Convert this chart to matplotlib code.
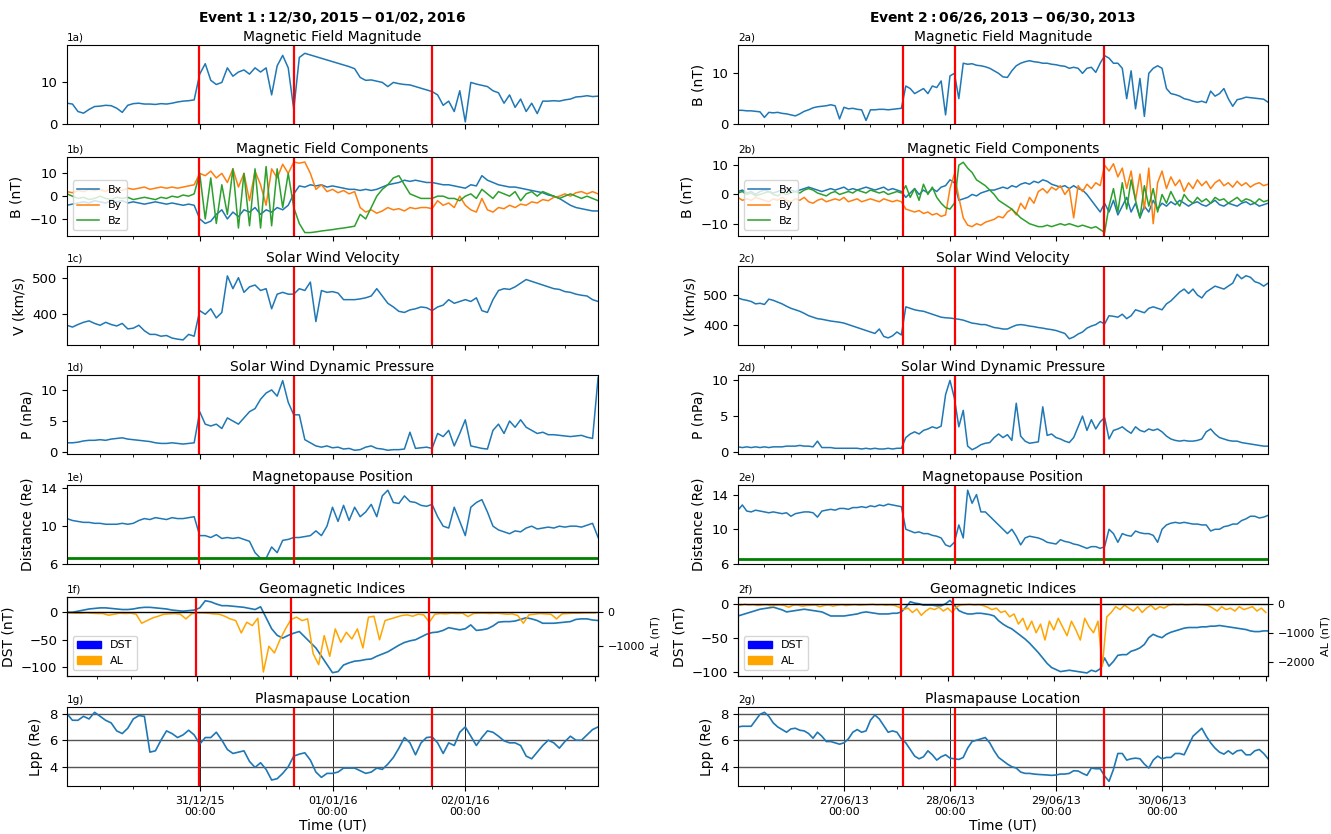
import numpy as np
import pandas as pd
import matplotlib
matplotlib.use('Agg')
import matplotlib.pyplot as plt
import matplotlib.dates as mdates
from matplotlib.patches import Patch

# ---------------- Event 1 : 30/12/2015 - 03/01/2016 (hourly) ----------------
time1 = pd.date_range('2015-12-30 00:00', '2016-01-03 00:00', freq='h')
time1_dst = time1 + pd.Timedelta(minutes=30)
ev1_marks = pd.to_datetime(['2015-12-30 23:50', '2015-12-31 17:00', '2016-01-01 18:00'])
ev1_title = r'$\bf{Event\ 1: 12/30, 2015 - 01/02, 2016}$'

ev1_b = [5.0, 4.8, 3.0, 2.6, 3.5, 4.2, 4.3, 4.5, 4.4, 3.8,
         2.8, 4.5, 4.9, 5.0, 4.8, 4.8, 4.7, 4.9, 4.8, 5.0,
         5.3, 5.5, 5.6, 5.8, 12.0, 14.5, 10.5, 9.5, 10.0, 13.5,
         11.5, 12.5, 13.0, 12.0, 13.5, 12.5, 13.5, 7.0, 14.0, 16.5,
         13.5, 3.5, 16.0, 17.0, 16.6, 16.2, 15.8, 15.4, 15.0, 14.6,
         14.2, 13.8, 13.3, 11.2, 10.5, 10.6, 10.3, 10.0, 9.0, 10.0,
         9.7, 9.5, 9.4, 9.0, 8.6, 8.2, 7.8, 7.0, 4.5, 5.5,
         3.0, 8.0, 0.5, 10.0, 9.6, 9.3, 9.0, 8.0, 7.5, 5.0,
         7.0, 4.0, 6.0, 3.0, 5.0, 2.5, 5.5, 5.5, 5.6, 5.5,
         5.8, 6.0, 6.5, 6.6, 6.8, 6.6, 6.7]
ev1_bx = [-4.0, -3.5, -3.0, -2.5, -3.0, -2.0, -2.5, -3.0, -2.0, -2.5,
          -2.0, -3.0, -2.5, -3.0, -3.5, -3.0, -2.5, -3.0, -3.5, -3.0,
          -3.5, -4.0, -3.5, -4.0, -10.0, -12.0, -11.0, -8.0, -6.0, -10.0,
          -7.0, -9.0, -6.0, -7.0, -5.0, -8.0, -6.0, -7.0, -5.0, -6.0,
          -4.0, 1.0, 4.5, 4.0, 5.0, 4.5, 5.0, 4.0, 4.5, 4.0,
          3.5, 3.0, 3.0, 2.5, 3.0, 2.5, 3.0, 4.0, 5.0, 5.5,
          6.0, 7.0, 6.5, 7.0, 6.5, 6.0, 6.0, 5.5, 5.0, 5.0,
          4.5, 4.0, 3.5, 5.0, 4.5, 9.0, 7.0, 6.0, 5.0, 4.5,
          4.0, 4.0, 3.5, 3.0, 2.5, 2.0, 1.5, 0.5, 0.0, -1.0,
          -2.5, -4.0, -5.0, -5.5, -6.0, -6.5, -6.5]
ev1_by = [2.0, 1.5, 2.5, 2.0, 3.0, 2.5, 3.0, 2.0, 3.5, 3.0,
          2.5, 3.5, 3.0, 3.5, 4.0, 3.0, 3.5, 4.0, 3.5, 4.0,
          3.5, 4.0, 4.5, 5.0, 10.0, 9.0, 11.0, 8.0, 10.0, 6.0,
          12.0, 4.0, 10.0, -2.0, 11.0, 5.0, -4.0, 12.0, 8.0, 14.0,
          10.0, 15.0, 14.5, 15.0, 10.0, 3.0, 5.0, 2.0, 3.0, 1.5,
          2.5, 1.0, 2.0, -5.0, -7.0, -6.0, -7.5, -6.5, -5.0, -6.0,
          -5.5, -6.5, -5.0, -5.5, -5.0, -5.0, -5.5, -2.0, -4.0, -3.0,
          -5.0, 0.0, -4.0, -6.0, -7.0, -1.0, -6.0, -7.0, -5.0, -5.5,
          -4.0, -5.0, -3.5, -4.0, -2.5, -3.0, -1.5, -2.0, -0.5, 0.0,
          1.0, 0.0, 1.5, 2.0, 1.0, 2.0, 1.0]
ev1_bz = [1.0, 0.0, -1.0, -0.5, -1.5, -1.0, 0.0, -1.0, -1.5, -0.5,
          -1.0, -0.5, -1.5, -1.0, -0.5, -1.0, -1.5, -0.5, -1.0, 0.0,
          -0.5, 0.5, 0.0, 1.0, 10.0, -10.0, 8.0, -12.0, 5.0, -8.0,
          12.0, -14.0, 10.0, -13.0, 12.0, -14.0, 13.0, -13.0, 12.0, -5.0,
          10.0, -5.0, -12.0, -16.0, -16.0, -15.7, -15.3, -15.0, -14.7, -14.3,
          -14.0, -13.6, -13.2, -8.0, -10.0, -5.0, 0.0, 3.0, 5.0, 8.0,
          9.0, 5.0, 1.0, 0.0, -1.0, -1.0, -1.0, 0.0, 0.0, -1.0,
          -1.0, -2.0, 0.0, 1.0, -1.0, 3.0, 1.0, -1.0, 2.0, 1.0,
          0.0, 2.0, -2.0, 1.0, 2.0, 0.0, 2.0, 1.0, 0.0, -1.0,
          0.0, 1.0, 0.0, -1.0, 0.0, -1.0, -2.0]
ev1_v = [370, 365, 372, 378, 382, 375, 370, 378, 372, 368,
         375, 360, 362, 370, 355, 345, 345, 340, 342, 335,
         332, 330, 345, 340, 410, 400, 415, 390, 405, 505,
         470, 500, 460, 475, 480, 465, 470, 415, 455, 460,
         455, 455, 470, 465, 488, 380, 465, 460, 462, 458,
         440, 440, 440, 442, 445, 450, 470, 450, 430, 420,
         408, 405, 412, 415, 420, 418, 410, 420, 425, 440,
         430, 435, 440, 435, 445, 410, 405, 440, 465, 470,
         468, 475, 485, 495, 490, 485, 480, 475, 470, 468,
         462, 460, 455, 452, 450, 440, 435]
ev1_p = [1.5, 1.5, 1.6, 1.8, 1.9, 1.9, 2.0, 1.9, 2.1, 2.2,
         2.3, 2.1, 2.0, 1.9, 1.8, 1.7, 1.5, 1.4, 1.4, 1.5,
         1.4, 1.3, 1.4, 1.5, 6.5, 4.5, 4.2, 4.5, 3.8, 5.5,
         5.0, 4.5, 5.5, 6.5, 7.0, 8.5, 9.5, 10.0, 9.0, 11.5,
         8.0, 6.0, 6.0, 2.0, 1.5, 1.0, 0.8, 1.0, 0.7, 0.8,
         0.5, 0.6, 0.3, 0.4, 0.8, 1.0, 0.6, 0.5, 0.3, 0.4,
         0.4, 0.5, 3.2, 0.6, 0.7, 0.8, 0.6, 3.0, 2.5, 3.5,
         1.0, 3.0, 5.2, 1.0, 0.8, 0.6, 0.5, 3.5, 4.5, 3.0,
         5.0, 4.0, 5.2, 4.0, 3.5, 3.0, 3.2, 2.8, 2.8, 2.7,
         2.6, 2.5, 2.6, 2.7, 2.4, 2.2, 12.0]
ev1_r = [10.8, 10.6, 10.5, 10.4, 10.4, 10.3, 10.3, 10.2, 10.2, 10.2,
         10.3, 10.2, 10.3, 10.6, 10.8, 10.7, 10.9, 10.8, 10.7, 10.9,
         10.8, 10.8, 10.9, 11.0, 9.0, 9.0, 8.8, 9.1, 8.7, 8.8,
         8.7, 8.8, 8.6, 8.4, 7.2, 6.6, 6.6, 7.8, 7.2, 8.5,
         8.6, 8.8, 8.8, 8.9, 9.0, 9.5, 9.0, 10.0, 12.0, 10.5,
         12.2, 10.6, 12.0, 11.0, 11.5, 12.3, 11.0, 13.2, 13.8, 12.5,
         12.4, 13.2, 12.6, 12.5, 12.2, 12.1, 12.3, 11.0, 10.0, 9.8,
         12.0, 10.5, 9.0, 12.0, 12.5, 12.8, 11.5, 10.0, 9.6, 9.4,
         9.2, 9.5, 9.4, 9.8, 10.0, 9.7, 9.8, 9.9, 9.8, 10.0,
         9.9, 10.0, 10.0, 9.9, 10.1, 10.3, 8.8]
ev1_dst = [0, 0, 2, 4, 6, 7, 8, 8, 7, 6,
           5, 5, 6, 8, 9, 9, 8, 7, 6, 4,
           3, 2, 3, 4, 8, 21, 19, 15, 12, 12,
           11, 10, 9, 7, 5, 10, -10, -30, -42, -47,
           -42, -38, -35, -45, -55, -65, -80, -95, -110, -108,
           -96, -92, -89, -88, -86, -85, -80, -76, -72, -66,
           -60, -55, -52, -50, -45, -40, -37, -36, -33, -28,
           -30, -32, -30, -23, -33, -32, -30, -25, -18, -17,
           -17, -16, -13, -10, -12, -15, -20, -20, -20, -19,
           -18, -17, -13, -12, -12, -14, -15]
ev1_al = [-20, -20, -30, -30, -20, -30, -40, -40, -90, -60,
          -30, -40, -30, -60, -330, -250, -170, -120, -60, -50,
          -40, -60, -200, -50, -20, -20, -30, -50, -60, -120,
          -200, -250, -620, -300, -400, -180, -1790, -1020, -1220, -825,
          -500, -215, -150, -250, -200, -1240, -1570, -700, -1320, -500,
          -900, -600, -800, -500, -1070, -150, -120, -825, -250, -200,
          -150, -100, -80, -120, -60, -80, -300, -60, -40, -50,
          -30, -40, -30, -130, -40, -30, -30, -40, -30, -40,
          -60, -50, -100, -330, -80, -60, -40, -50, -60, -200,
          -50, -40, -30, -30, -20, -20, -20]
ev1_lpp = [8.0, 7.5, 7.5, 7.8, 7.6, 8.1, 7.8, 7.5, 7.3, 6.7,
           6.5, 6.9, 7.6, 7.85, 7.8, 5.1, 5.2, 6.0, 6.7, 6.5,
           6.2, 6.4, 6.75, 6.4, 5.7, 6.2, 6.2, 6.6, 6.0, 5.3,
           5.0, 5.1, 5.2, 4.4, 3.95, 4.3, 3.8, 3.0, 3.1, 3.5,
           4.0, 4.8, 4.95, 5.05, 4.5, 3.6, 3.2, 3.5, 3.5, 3.6,
           3.9, 3.9, 3.9, 3.7, 3.5, 3.6, 3.9, 3.8, 4.2, 4.7,
           5.4, 6.2, 5.8, 4.9, 5.8, 6.2, 6.25, 5.8, 5.0, 5.8,
           5.6, 6.6, 7.0, 6.3, 5.6, 6.2, 6.7, 6.6, 6.3, 5.95,
           5.8, 5.8, 5.6, 4.8, 4.6, 5.1, 5.6, 6.0, 5.8, 5.4,
           5.9, 6.3, 6.0, 6.0, 6.4, 6.8, 7.0]

# ---------------- Event 2 : 26/06/2013 - 01/07/2013 (hourly) ----------------
time2 = pd.date_range('2013-06-26 00:00', '2013-07-01 00:00', freq='h')
time2_dst = time2 + pd.Timedelta(minutes=30)
ev2_marks = pd.to_datetime(['2013-06-27 13:24', '2013-06-28 01:06', '2013-06-29 10:48'])
ev2_title = r'$\bf{Event\ 2: 06/26, 2013 - 06/30, 2013}$'

ev2_b = [2.7, 2.7, 2.6, 2.6, 2.5, 2.4, 1.3, 2.3, 2.2, 2.3,
         2.1, 2.0, 1.8, 1.6, 2.0, 2.5, 2.8, 3.2, 3.4, 3.5,
         3.6, 3.8, 3.6, 1.0, 3.3, 3.0, 3.1, 2.9, 2.8, 0.7,
         2.8, 2.8, 2.9, 2.9, 2.8, 2.9, 3.0, 3.1, 7.5, 7.0,
         6.0, 6.5, 7.0, 6.0, 7.5, 7.2, 8.5, 1.8, 9.5, 10.0,
         5.0, 12.0, 11.8, 11.9, 11.6, 11.5, 11.3, 11.0, 10.5, 10.0,
         9.3, 9.2, 10.5, 11.5, 12.0, 12.3, 12.5, 12.3, 12.2, 12.0,
         12.0, 11.8, 11.7, 11.5, 11.4, 11.0, 11.2, 11.0, 10.0, 11.0,
         11.2, 10.2, 12.0, 13.5, 13.0, 12.0, 12.0, 11.0, 5.0, 10.5,
         3.0, 9.0, 1.5, 10.0, 11.0, 11.5, 11.0, 7.0, 6.0, 5.8,
         5.5, 5.0, 4.8, 4.5, 4.3, 4.5, 4.2, 6.5, 5.5, 6.0,
         7.0, 5.0, 3.5, 4.8, 5.0, 5.3, 5.2, 5.1, 5.0, 4.9,
         4.3]
ev2_bx = [1.0, 1.5, 0.5, 1.0, 0.0, 1.0, 1.5, 1.0, 0.5, 1.0,
          1.5, 2.0, 1.5, 1.0, 1.5, 2.0, 2.5, 2.0, 1.5, 1.0,
          1.5, 2.0, 1.5, 2.0, 2.5, 1.5, 2.0, 1.5, 2.0, 2.5,
          2.0, 1.5, 2.0, 2.5, 1.5, 2.0, 1.5, 1.0, -1.0, 0.5,
          2.0, 0.0, 1.5, 0.5, 2.0, 1.0, 2.5, 3.0, 5.0, 4.0,
          -2.0, -1.5, -1.0, 0.0, -0.5, 0.5, 1.0, 1.5, 1.5, 2.0,
          2.5, 2.0, 3.0, 2.5, 3.5, 4.0, 3.5, 4.5, 4.0, 5.0,
          4.5, 3.5, 3.0, 2.5, 3.0, 2.0, 3.0, 2.0, 1.5, 0.0,
          -2.0, -4.0, -6.0, -3.0, -6.0, -2.0, -7.0, -4.0, -1.0, -6.0,
          -3.0, -8.0, -4.0, -6.0, -2.0, -5.0, -3.0, -4.0, -2.5, -3.5,
          -2.0, -3.0, -4.0, -3.0, -2.5, -3.5, -4.0, -3.0, -2.0, -3.5,
          -4.0, -3.0, -3.5, -4.0, -3.0, -2.5, -3.5, -3.0, -4.0, -3.5,
          -3.0]
ev2_by = [-1.0, -2.0, -1.5, -2.0, -1.0, -1.5, -2.0, -2.5, -1.5, -2.0,
          -1.0, -2.0, -2.5, -1.5, -2.0, -1.0, -2.5, -3.0, -2.0, -1.5,
          -2.5, -2.0, -1.5, -2.0, -1.0, -2.5, -2.0, -1.5, -2.5, -2.0,
          -1.5, -2.0, -2.5, -1.5, -2.0, -2.5, -2.0, -2.5, -5.0, -5.5,
          -6.0, -5.5, -6.5, -6.0, -7.0, -6.5, -7.5, -7.0, 2.0, 7.0,
          -1.0, -8.0, -10.5, -11.0, -10.0, -10.5, -9.5, -9.0, -8.5, -7.5,
          -8.0, -6.0, -5.0, -7.0, -3.0, -5.0, -1.0, -3.0, 1.0, 2.0,
          0.5, 2.5, 1.5, 3.0, 0.0, 2.0, -8.0, 3.0, 1.0, 3.5,
          2.0, 4.0, 3.0, 10.0, 8.0, 10.5, 6.0, 9.0, 2.0, 8.0,
          -2.0, 7.0, -5.0, 9.0, -10.0, 4.0, 8.0, 2.0, 6.0, 3.0,
          5.0, 1.0, 4.0, 2.0, 5.0, 3.0, 4.5, 2.0, 4.0, 5.0,
          3.0, 4.0, 2.5, 4.5, 3.0, 4.0, 2.5, 3.5, 4.0, 3.0,
          3.5]
ev2_bz = [0.5, 1.0, 0.0, 0.5, -0.5, 0.0, 0.5, 1.0, 0.0, -0.5,
          0.5, 0.0, 0.5, 1.0, 0.5, 1.5, 2.0, 1.5, 0.5, 0.0,
          -0.5, 0.5, 1.0, 0.0, 0.5, 1.0, 0.5, 1.5, 1.0, 0.5,
          1.5, 1.0, 0.5, 1.0, 0.0, 0.5, 1.0, 0.5, 3.0, -1.0,
          2.0, -2.0, 3.5, 0.0, 2.5, -1.0, -3.0, -4.5, -5.0, -3.0,
          10.0, 11.0, 9.0, 7.5, 5.0, 4.0, 3.0, 1.5, 0.0, -2.0,
          -3.0, -4.0, -5.0, -6.5, -8.0, -9.0, -10.0, -10.5, -11.0, -11.0,
          -10.5, -11.0, -10.5, -10.0, -10.5, -10.0, -10.5, -11.0, -10.5, -11.0,
          -11.5, -11.0, -12.0, -13.0, -4.0, 2.0, -6.0, 4.0, -5.0, 5.0,
          -2.0, -8.0, 3.0, -4.0, 2.0, -6.0, 0.0, -3.0, 1.0, -2.0,
          -4.0, 0.0, -2.0, -3.0, -1.0, -2.5, -1.5, -3.0, -1.0, -2.0,
          -1.5, -3.0, -2.0, -1.0, -2.5, -1.5, -2.0, -3.0, -1.5, -2.5,
          -2.0]
ev2_v = [490, 485, 482, 478, 470, 472, 468, 486, 482, 476,
         470, 462, 455, 450, 445, 438, 430, 425, 420, 418,
         415, 412, 410, 408, 405, 400, 395, 390, 385, 380,
         375, 370, 385, 360, 355, 362, 375, 365, 460, 455,
         450, 447, 445, 440, 435, 430, 425, 423, 422, 420,
         418, 415, 410, 405, 403, 400, 400, 395, 390, 388,
         385, 385, 392, 398, 400, 398, 395, 393, 390, 388,
         385, 383, 380, 375, 370, 352, 358, 368, 375, 388,
         395, 400, 410, 402, 430, 428, 425, 435, 420, 430,
         450, 445, 440, 455, 460, 455, 450, 470, 480, 495,
         510, 520, 505, 520, 500, 490, 510, 520, 530, 525,
         520, 530, 540, 570, 555, 565, 560, 545, 540, 530,
         540]
ev2_p = [0.7, 0.6, 0.7, 0.6, 0.7, 0.6, 0.7, 0.6, 0.7, 0.7,
         0.7, 0.8, 0.8, 0.8, 0.9, 0.8, 0.8, 0.7, 1.5, 0.6,
         0.6, 0.6, 0.5, 0.5, 0.5, 0.5, 0.5, 0.5, 0.4, 0.5,
         0.4, 0.5, 0.4, 0.4, 0.5, 0.4, 0.5, 0.5, 2.0, 2.5,
         2.8, 2.5, 3.0, 3.2, 3.5, 3.3, 3.6, 8.0, 10.0, 7.5,
         3.5, 5.8, 0.8, 0.3, 0.6, 1.0, 1.2, 1.3, 2.0, 2.5,
         2.0, 2.4, 1.6, 6.8, 2.2, 1.5, 1.2, 1.3, 1.4, 6.3,
         2.3, 2.5, 2.0, 1.8, 1.5, 1.3, 2.0, 3.5, 5.0, 3.0,
         4.5, 3.2, 4.2, 4.8, 1.8, 3.0, 3.2, 3.5, 3.0, 2.6,
         3.5, 3.0, 2.8, 3.2, 3.0, 3.2, 2.8, 2.2, 1.8, 1.6,
         1.5, 1.6, 1.5, 1.5, 1.6, 1.8, 2.8, 3.2, 2.5, 2.0,
         1.8, 1.6, 1.5, 1.5, 1.3, 1.2, 1.1, 1.0, 0.9, 0.8,
         0.8]
ev2_r = [12.2, 12.8, 12.1, 12.0, 12.2, 12.1, 12.0, 11.9, 12.0, 11.9,
         11.8, 11.9, 11.5, 11.8, 11.9, 12.0, 12.0, 11.9, 11.4, 12.1,
         12.2, 12.3, 12.2, 12.4, 12.4, 12.3, 12.5, 12.5, 12.6, 12.5,
         12.7, 12.6, 12.8, 12.7, 12.9, 12.8, 12.7, 12.6, 10.0, 9.8,
         9.6, 9.7, 9.5, 9.5, 9.3, 9.2, 9.0, 8.2, 8.0, 8.5,
         10.5, 9.0, 14.5, 13.0, 14.0, 12.0, 12.0, 11.5, 11.0, 10.5,
         10.0, 9.5, 10.0, 9.2, 8.2, 9.0, 9.2, 9.1, 9.0, 8.8,
         8.5, 8.4, 8.3, 8.8, 8.6, 8.5, 8.3, 8.2, 8.0, 7.8,
         8.0, 8.0, 7.8, 8.0, 10.0, 9.5, 8.5, 9.5, 9.3, 9.2,
         9.8, 9.6, 9.5, 9.5, 9.3, 8.5, 10.0, 10.5, 10.7, 10.8,
         10.7, 10.8, 10.7, 10.6, 10.6, 10.5, 10.5, 9.8, 10.0, 10.0,
         10.3, 10.4, 10.6, 10.6, 11.0, 11.2, 11.5, 11.5, 11.3, 11.4,
         11.6]
ev2_dst = [-18, -16, -14, -12, -10, -8, -7, -6, -5, -7,
           -9, -12, -11, -10, -9, -8, -9, -10, -11, -12,
           -15, -18, -18, -18, -18, -17, -16, -15, -13, -12,
           -13, -14, -15, -15, -15, -14, -14, -12, -5, 3,
           1, 0, -2, -2, -2, -3, -3, 0, 5, -2,
           -10, -13, -15, -15, -14, -14, -15, -16, -18, -25,
           -30, -34, -37, -42, -47, -52, -58, -65, -72, -80,
           -88, -94, -97, -100, -99, -98, -99, -100, -101, -102,
           -98, -100, -96, -80, -92, -85, -76, -75, -75, -70,
           -68, -65, -60, -50, -45, -48, -50, -45, -42, -40,
           -38, -36, -35, -35, -35, -34, -34, -33, -33, -32,
           -33, -34, -35, -36, -37, -38, -40, -41, -41, -40,
           -40]
ev2_al = [-30, -50, -20, -40, -30, -60, -40, -30, -80, -50,
          -40, -60, -120, -50, -40, -80, -60, -50, -40, -100,
          -60, -40, -80, -50, -30, -60, -40, -30, -50, -40,
          -30, -20, -40, -30, -50, -40, -60, -120, -200, -150,
          -300, -180, -400, -250, -150, -200, -120, -250, -150, -300,
          -100, -40, -30, -20, -40, -30, -60, -120, -200, -150,
          -300, -250, -450, -350, -700, -500, -900, -600, -1000, -700,
          -1250, -600, -900, -500, -800, -1100, -600, -900, -1250, -500,
          -800, -1000, -600, -2150, -450, -300, -100, -200, -50, -150,
          -250, -100, -300, -150, -50, -200, -100, -150, -50, -20,
          -30, -20, -40, -30, -20, -30, -40, -60, -150, -250,
          -100, -200, -150, -250, -100, -200, -150, -100, -250, -150,
          -300]
ev2_lpp = [7.0, 7.05, 7.05, 7.05, 7.5, 7.95, 8.1, 7.8, 7.3, 7.0,
           6.8, 6.6, 6.85, 6.9, 6.75, 6.7, 6.5, 6.15, 6.6, 6.3,
           5.9, 5.9, 5.8, 5.7, 5.8, 6.1, 6.6, 6.8, 6.6, 6.7,
           7.5, 7.9, 7.6, 7.1, 6.6, 6.7, 6.6, 6.1, 5.8, 5.3,
           4.8, 4.6, 4.75, 5.2, 4.9, 4.5, 4.75, 4.9, 4.65, 4.6,
           4.55, 4.7, 5.4, 5.9, 6.0, 6.1, 6.2, 5.8, 5.2, 4.7,
           4.45, 4.2, 4.0, 3.9, 3.6, 3.5, 3.5, 3.45, 3.42, 3.4,
           3.38, 3.35, 3.38, 3.45, 3.45, 3.5, 3.7, 3.68, 3.5, 3.35,
           3.9, 3.85, 3.85, 3.3, 2.9, 3.8, 5.0, 5.0, 4.5, 4.6,
           4.65, 4.6, 4.2, 3.9, 4.5, 4.8, 4.6, 4.7, 4.7, 5.0,
           5.0, 4.9, 5.6, 6.3, 6.6, 6.9, 6.3, 5.8, 5.4, 5.1,
           4.95, 5.2, 4.95, 5.2, 5.25, 4.9, 4.9, 5.2, 5.3, 5.0,
           4.6]

panel_titles = ['Magnetic Field Magnitude', 'Magnetic Field Components', 'Solar Wind Velocity',
                'Solar Wind Dynamic Pressure', 'Magnetopause Position', 'Geomagnetic Indices',
                'Plasmapause Location']
panel_tags = ['a)', 'b)', 'c)', 'd)', 'e)', 'f)', 'g)']
ylabels = ['B (nT)', 'B (nT)', 'V (km/s)', 'P (nPa)', 'Distance (Re)', 'DST (nT)', 'Lpp (Re)']
yticks = [[0, 10], [-10, 0, 10], [400, 500], [0, 5, 10], [6, 10, 14], [-100, -50, 0], [4, 6, 8]]
mp_standoff = 6.6

events = [
    dict(n='1', t=time1, td=time1_dst, b=ev1_b, bx=ev1_bx, by=ev1_by, bz=ev1_bz, v=ev1_v,
         p=ev1_p, r=ev1_r, dst=ev1_dst, al=ev1_al, lpp=ev1_lpp, marks=ev1_marks, title=ev1_title,
         ylims=[(0, 19), (-17.5, 17.2), (316, 532), (-0.3, 12.4), (6, 14.35), (-116, 27.8), (2.55, 8.5)],
         al_lim=(-1909, 455), al_ticks=[-1000, 0], first_label=False),
    dict(n='2', t=time2, td=time2_dst, b=ev2_b, bx=ev2_bx, by=ev2_by, bz=ev2_bz, v=ev2_v,
         p=ev2_p, r=ev2_r, dst=ev2_dst, al=ev2_al, lpp=ev2_lpp, marks=ev2_marks, title=ev2_title,
         ylims=[(0, 15.6), (-14.2, 12.8), (331, 598), (-0.3, 10.75), (6, 15.1), (-106.5, 10), (2.55, 8.5)],
         al_lim=(-2491, 234), al_ticks=[-2000, -1000, 0], first_label=True),
]

W, H = 1331, 834
fig = plt.figure(figsize=(W / 100, H / 100), dpi=100)
lefts = [67, 738]
widths = [531, 530]
bottoms = [124, 236, 345, 454, 564, 676, 786]
ax_h = 79
one_min = pd.Timedelta(minutes=1)
half_hour = pd.Timedelta(minutes=30)

for col, ev in enumerate(events):
    t = ev['t']
    axes = []
    for row in range(7):
        ax = fig.add_axes([lefts[col] / W, 1 - bottoms[row] / H, widths[col] / W, ax_h / H])
        axes.append(ax)
        ax.set_title(panel_titles[row], fontsize=10, pad=3)
        ax.text(0, 1.03, ev['n'] + panel_tags[row], transform=ax.transAxes, fontsize=7.5,
                ha='left', va='bottom')
        if row > 0 or ev['first_label']:
            ax.set_ylabel(ylabels[row], fontsize=10)
        ax.set_ylim(ev['ylims'][row])
        ax.set_yticks(yticks[row])
        ax.tick_params(axis='y', labelsize=9.5)
        ax.tick_params(axis='x', labelsize=8)
        ax.xaxis.set_major_locator(mdates.DayLocator())
        ax.xaxis.set_minor_locator(mdates.HourLocator(byhour=[0, 6, 12, 18]))
        if row == 5:
            ax.set_xlim(t[0] + half_hour, t[-1] + half_hour)
        else:
            ax.set_xlim(t[0] + one_min, t[-1] - one_min)
        if row < 6:
            ax.tick_params(labelbottom=False)

    lw = 1.1
    axes[0].plot(t, ev['b'], color='C0', lw=lw)
    axes[1].plot(t, ev['bx'], color='C0', lw=lw, label='Bx')
    axes[1].plot(t, ev['by'], color='C1', lw=lw, label='By')
    axes[1].plot(t, ev['bz'], color='C2', lw=lw, label='Bz')
    axes[1].legend(loc='lower left', fontsize=8)
    axes[2].plot(t, ev['v'], color='C0', lw=lw)
    axes[3].plot(t, ev['p'], color='C0', lw=lw)
    axes[4].plot(t, ev['r'], color='C0', lw=lw)
    axes[4].axhline(mp_standoff, color='green', lw=2)

    # geomagnetic indices with twin axis
    ax_f = axes[5]
    ax_f.plot(ev['td'], ev['dst'], color='C0', lw=1.2)
    ax_al = ax_f.twinx()
    ax_al.plot(t, ev['al'], color='orange', lw=1.1)
    ax_al.axhline(0, color='black', lw=1)
    ax_al.set_ylim(ev['al_lim'])
    ax_al.set_yticks(ev['al_ticks'])
    ax_al.tick_params(labelsize=8)
    ax_al.set_ylabel('AL (nT)', fontsize=8)
    ax_al.set_xlim(ax_f.get_xlim())
    ax_al.legend(handles=[Patch(color='blue', label='DST'), Patch(color='orange', label='AL')],
                 loc='lower left', fontsize=8, handlelength=2.2)
    for m in ev['marks']:
        ax_al.axvline(m, color='red', lw=1.6)

    ax_g = axes[6]
    ax_g.plot(t, ev['lpp'], color='C0', lw=1.2)
    ax_g.grid(axis='y', color='#555555', lw=1)
    ax_g.grid(axis='x', which='major', color='black', lw=0.6)
    ax_g.xaxis.set_major_formatter(mdates.DateFormatter('%d/%m/%y\n%H:%M'))
    ax_g.set_xlabel('Time (UT)', fontsize=10, labelpad=1)

    for row in [0, 1, 2, 3, 4, 6]:
        for m in ev['marks']:
            axes[row].axvline(m, color='red', lw=1.6)

    fig.text((lefts[col] + widths[col] / 2) / W, 1 - 18 / H, ev['title'], fontsize=10,
             ha='center', va='center')

fig.savefig('out.png', dpi=100)
